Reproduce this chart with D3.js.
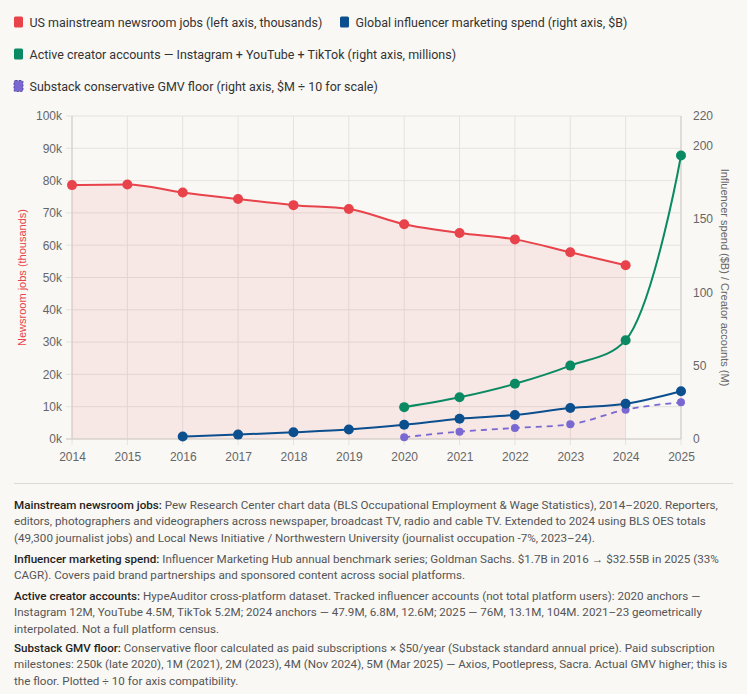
<!DOCTYPE html>
<html><head><meta charset="utf-8">
<script src="https://cdn.jsdelivr.net/npm/d3@7/dist/d3.min.js"></script>
<style>
html,body{margin:0;padding:0;background:#f9f8f5;}
svg{display:block;}
</style></head>
<body>
<svg id="c" width="747" height="694"></svg>
<script>
const years = [2014,2015,2016,2017,2018,2019,2020,2021,2022,2023,2024,2025];
const newsroomYears = [2014,2015,2016,2017,2018,2019,2020,2021,2022,2023,2024];
const newsroomJobs = [78.6,78.8,76.3,74.3,72.4,71.2,66.5,63.8,61.8,57.8,53.8];
const spendYears = [2016,2017,2018,2019,2020,2021,2022,2023,2024,2025];
const influencerSpend = [1.7,3.0,4.6,6.5,9.7,13.8,16.4,21.1,24.0,32.55];
const creatorYears = [2020,2021,2022,2023,2024,2025];
const creatorAccounts = [21.7,28.4,37.6,50.0,67.3,193.1];
const substackYears = [2020,2021,2022,2023,2024,2025];
const substackGmv = [1.25,5.0,7.5,10.0,20.0,25.0];
const leftTicks = [0,10,20,30,40,50,60,70,80,90,100];
const rightTicks = [0,50,100,150,200,220];

const legendItems = [
  {label:"US mainstream newsroom jobs (left axis, thousands)", color:"#e8424a"},
  {label:"Global influencer marketing spend (right axis, $B)", color:"#0c4f8f"},
  {label:"Active creator accounts \u2014 Instagram + YouTube + TikTok (right axis, millions)", color:"#0a8a62"},
  {label:"Substack conservative GMV floor (right axis, $M \u00f7 10 for scale)", color:"#7a68d2", dashed:true}
];

const notes = [
  [["Mainstream newsroom jobs:", " Pew Research Center chart data (BLS Occupational Employment & Wage Statistics), 2014\u20132020. Reporters,"],
   ["", "editors, photographers and videographers across newspaper, broadcast TV, radio and cable TV. Extended to 2024 using BLS OES totals"],
   ["", "(49,300 journalist jobs) and Local News Initiative / Northwestern University (journalist occupation -7%, 2023\u201324)."]],
  [["Influencer marketing spend:", " Influencer Marketing Hub annual benchmark series; Goldman Sachs. $1.7B in 2016 \u2192 $32.55B in 2025 (33%"],
   ["", "CAGR). Covers paid brand partnerships and sponsored content across social platforms."]],
  [["Active creator accounts:", " HypeAuditor cross-platform dataset. Tracked influencer accounts (not total platform users): 2020 anchors \u2014"],
   ["", "Instagram 12M, YouTube 4.5M, TikTok 5.2M; 2024 anchors \u2014 47.9M, 6.8M, 12.6M; 2025 \u2014 76M, 13.1M, 104M. 2021\u201323 geometrically"],
   ["", "interpolated. Not a full platform census."]],
  [["Substack GMV floor:", " Conservative floor calculated as paid subscriptions \u00d7 $50/year (Substack standard annual price). Paid subscription"],
   ["", "milestones: 250k (late 2020), 1M (2021), 2M (2023), 4M (Nov 2024), 5M (Mar 2025) \u2014 Axios, Pootlepress, Sacra. Actual GMV higher; this is"],
   ["", "the floor. Plotted \u00f7 10 for axis compatibility."]]
];

const svg = d3.select("#c");
const UI = "Roboto, 'Liberation Sans', sans-serif";
const TICK = "'Liberation Sans', Arial, Helvetica, sans-serif";

const x = d3.scaleLinear().domain([2014,2025]).range([72,681]);
const yL = d3.scaleLinear().domain([0,100]).range([439,116]);
const yR = d3.scaleLinear().domain([0,220]).range([439,116]);

// measure helper to fit font size to reference text width
function fitSize(str, base, target, weight){
  const t = svg.append("text").attr("font-family",UI).attr("font-size",base).attr("font-weight",weight||400).text(str);
  const w = t.node().getComputedTextLength();
  t.remove();
  return base*target/w;
}
const legendSize = fitSize(legendItems[0].label, 13, 293);

// legend
const legendPos = [[14,22],[340,22],[14,54],[14,86]];
legendItems.forEach((d,i)=>{
  const [lx,ly] = legendPos[i];
  svg.append("rect").attr("x",lx).attr("y",ly-5.5).attr("width",9).attr("height",11).attr("rx",1.5)
    .attr("fill",d.color).attr("stroke", d.dashed? "#3d3480":"none").attr("stroke-width", d.dashed?0.8:0)
    .attr("stroke-dasharray", d.dashed?"2,1.5":null);
  svg.append("text").attr("x",lx+15.5).attr("y",ly+4.5).attr("font-family",UI).attr("font-size",legendSize)
    .attr("fill","#333").text(d.label);
});

// grid
const g = svg.append("g");
g.selectAll("line.h").data(leftTicks).join("line")
  .attr("x1",66).attr("x2",681).attr("y1",d=>yL(d)).attr("y2",d=>yL(d))
  .attr("stroke","#e6e2de").attr("stroke-width",1);
g.selectAll("line.v").data(years).join("line")
  .attr("x1",d=>x(d)).attr("x2",d=>x(d)).attr("y1",116).attr("y2",445)
  .attr("stroke","#e6e2de").attr("stroke-width",1);

// area fill for newsroom
const nd = newsroomYears.map((yr,i)=>({x:yr,y:newsroomJobs[i]}));
svg.append("path").datum(nd)
  .attr("d", d3.area().x(d=>x(d.x)).y0(yL(0)).y1(d=>yL(d.y)).curve(d3.curveMonotoneX))
  .attr("fill","rgba(232,66,74,0.09)");

// axis lines
svg.append("line").attr("x1",72).attr("x2",72).attr("y1",116).attr("y2",439).attr("stroke","#d2cbc7");
svg.append("line").attr("x1",681).attr("x2",681).attr("y1",116).attr("y2",439).attr("stroke","#d2cbc7");
svg.append("line").attr("x1",66).attr("x2",681).attr("y1",439).attr("y2",439).attr("stroke","#d2cbc7");

// axes via d3
const axL = d3.axisLeft(yL).tickValues(leftTicks).tickFormat(d=>d+"k").tickSize(0).tickPadding(10);
const gL = svg.append("g").attr("transform","translate(72,0)").call(axL);
const axR = d3.axisRight(yR).tickValues(rightTicks).tickSize(0).tickPadding(12);
const gR = svg.append("g").attr("transform","translate(681,0)").call(axR);
const axB = d3.axisBottom(x).tickValues(years).tickFormat(d3.format("d")).tickSize(0).tickPadding(13);
const gB = svg.append("g").attr("transform","translate(0,439)").call(axB);
[gL,gR,gB].forEach(a=>{
  a.select(".domain").remove();
  a.selectAll("text").attr("font-family",TICK).attr("font-size",12).attr("fill","#666");
});

// axis titles
svg.append("text").attr("transform","translate(26,277.5) rotate(-90)").attr("text-anchor","middle")
  .attr("font-family",TICK).attr("font-size",11).attr("fill","#e8424a").text("Newsroom jobs (thousands)");
svg.append("text").attr("transform","translate(721,277.5) rotate(90)").attr("text-anchor","middle")
  .attr("font-family",TICK).attr("font-size",11).attr("fill","#666").text("Influencer spend ($B) / Creator accounts (M)");

function series(xs, vs, yScale, color, curve, r, dash, w){
  const data = xs.map((yr,i)=>({x:yr,y:vs[i]}));
  svg.append("path").datum(data)
    .attr("d", d3.line().x(d=>x(d.x)).y(d=>yScale(d.y)).curve(curve))
    .attr("fill","none").attr("stroke",color).attr("stroke-width",w).attr("stroke-dasharray",dash);
  svg.append("g").selectAll("circle").data(data).join("circle")
    .attr("cx",d=>x(d.x)).attr("cy",d=>yScale(d.y)).attr("r",r).attr("fill",color);
}
series(newsroomYears, newsroomJobs, yL, "#e8424a", d3.curveMonotoneX, 5, null, 2);
series(substackYears, substackGmv, yR, "#7a68d2", d3.curveMonotoneX, 4, "6,5", 1.8);
series(spendYears, influencerSpend, yR, "#0c4f8f", d3.curveMonotoneX, 5, null, 2);
series(creatorYears, creatorAccounts, yR, "#0a8a62", d3.curveCatmullRom.alpha(0.5), 5, null, 2);

// footnotes
svg.append("line").attr("x1",14).attr("x2",733).attr("y1",483.5).attr("y2",483.5).attr("stroke","#dcd8d4");
const noteSize = fitSize("editors, photographers and videographers across newspaper, broadcast TV, radio and cable TV. Extended to 2024 using BLS OES totals", 12, 693);
const noteStart = [509, 563, 600, 652];
notes.forEach((para,pi)=>{
  para.forEach((ln,li)=>{
    const t = svg.append("text").attr("x",14).attr("y",noteStart[pi]+li*16.4)
      .attr("font-family",UI).attr("font-size",noteSize).attr("fill","#555");
    if(ln[0]) t.append("tspan").attr("font-weight",500).attr("fill","#1f1f1f").text(ln[0]);
    t.append("tspan").text(ln[1]);
  });
});
</script>
</body></html>
